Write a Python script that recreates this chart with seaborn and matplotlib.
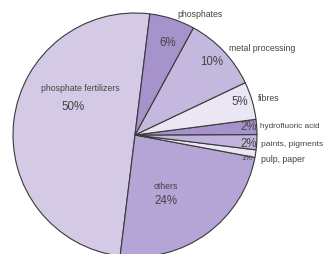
import numpy as np
import matplotlib
matplotlib.use("Agg")
import matplotlib.pyplot as plt
import seaborn as sns

# data
categories = ["phosphate fertilizers", "others", "pulp, paper", "paints, pigments",
              "hydrofluoric acid", "fibres", "metal processing", "phosphates"]
shares = [50, 24, 1, 2, 2, 5, 10, 6]
pct_labels = ["50%", "24%", "1%", "2%", "2%", "5%", "10%", "6%"]
colors = ["#d4cae6", "#b5a4d6", "#ebe6f4", "#c1b4dc",
          "#a693cb", "#ebe6f4", "#c5b8de", "#a793cc"]


def main():
    sns.set_theme(style="white")
    plt.rcParams["font.family"] = ["Liberation Sans", "DejaVu Sans"]

    fig = plt.figure(figsize=(3.23, 2.54), dpi=100)
    ax = fig.add_axes([0, 0, 1, 1])

    wedges, _ = ax.pie(shares, colors=colors, startangle=83, counterclock=True,
                       radius=1.0,
                       wedgeprops=dict(edgecolor="#3a3a3a", linewidth=0.8))

    txt = "#444444"
    # category names
    ax.text(-0.45, 0.38, categories[0], fontsize=6.3, color=txt, ha="center", va="center")
    ax.text(0.25, -0.42, categories[1], fontsize=6.3, color=txt, ha="center", va="center")
    ax.text(1.03, -0.20, categories[2], fontsize=6.3, color=txt, ha="left", va="center")
    ax.text(1.03, -0.074, categories[3], fontsize=6.1, color=txt, ha="left", va="center")
    ax.text(1.025, 0.066, categories[4], fontsize=5.9, color=txt, ha="left", va="center")
    ax.text(1.01, 0.30, categories[5], fontsize=6.3, color=txt, ha="left", va="center")
    ax.text(0.77, 0.71, categories[6], fontsize=6.3, color=txt, ha="left", va="center")
    ax.text(0.53, 0.99, categories[7], fontsize=6.3, color=txt, ha="center", va="center")

    # percentages
    ax.text(-0.51, 0.23, pct_labels[0], fontsize=8.3, color=txt, ha="center", va="center")
    ax.text(0.25, -0.54, pct_labels[1], fontsize=8.3, color=txt, ha="center", va="center")
    ax.text(0.915, -0.19, pct_labels[2], fontsize=5.5, color=txt, ha="center", va="center")
    ax.text(1.0, -0.074, pct_labels[3], fontsize=8.3, color=txt, ha="right", va="center")
    ax.text(1.0, 0.066, pct_labels[4], fontsize=8.3, color=txt, ha="right", va="center")
    ax.text(0.86, 0.27, pct_labels[5], fontsize=8.3, color=txt, ha="center", va="center")
    ax.text(0.63, 0.60, pct_labels[6], fontsize=8.3, color=txt, ha="center", va="center")
    ax.text(0.27, 0.755, pct_labels[7], fontsize=8.3, color=txt, ha="center", va="center")

    ax.set_xlim(-135 / 122, (323 - 135) / 122)
    ax.set_ylim(-(254 - 135) / 122, 135 / 122)
    ax.set_aspect("equal")
    ax.axis("off")

    fig.savefig("out.png", dpi=100, facecolor="white")
    plt.close(fig)


if __name__ == "__main__":
    main()
